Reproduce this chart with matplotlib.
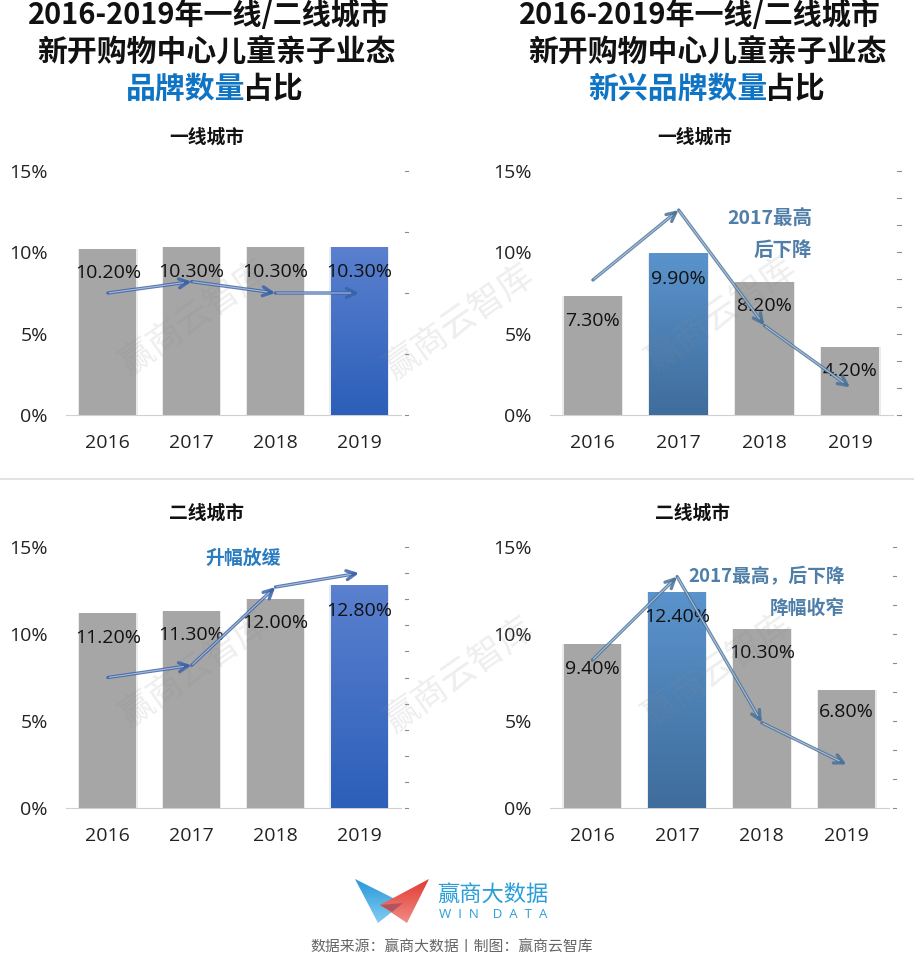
import numpy as np
import matplotlib
matplotlib.use("Agg")
import matplotlib.pyplot as plt
from matplotlib.colors import LinearSegmentedColormap
from matplotlib.patches import Polygon

W, H = 914, 955
CJK = ["Noto Sans CJK SC", "DejaVu Sans"]
NUM = ["Open Sans", "Noto Sans CJK SC"]

years = ["2016", "2017", "2018", "2019"]
y_ticks = [0, 5, 10, 15]

# share of brands
tier1_brand = [10.2, 10.3, 10.3, 10.3]
tier2_brand = [11.2, 11.3, 12.0, 12.8]
tier1_new = [7.3, 9.9, 8.2, 4.2]
tier2_new = [9.4, 12.4, 10.3, 6.8]

# hand drawn trend arrows, in the same % units as the value axis
tier1_brand_arrow = [7.5, 8.2, 7.5, 7.5]
tier2_brand_arrow = [7.5, 8.2, 12.7, 13.5]
tier1_new_arrow = [8.3, 12.6, 5.5, 1.7]
tier2_new_arrow = [8.5, 13.3, 4.9, 2.5]

# where the value labels sit, in %
tier1_brand_label = [8.7, 8.8, 8.8, 8.8]
tier2_brand_label = [9.75, 9.95, 10.65, 11.35]
tier1_new_label = [5.78, 8.38, 6.68, 2.68]
tier2_new_label = [8.0, 11.0, 8.9, 5.5]

BLUE_HI = ("#2c5fb9", "#5a80cf")
STEEL_HI = ("#3f6d9c", "#5a93cc")
GRAY = "#a6a6a6"
TITLE_BLUE = "#0f74c4"
NOTE_BLUE = "#4f7fa9"

fig = plt.figure(figsize=(W / 100, H / 100), dpi=100, facecolor="white")


def px_axes(x0, y0, x1, y1):
    return fig.add_axes([x0 / W, 1 - y1 / H, (x1 - x0) / W, (y1 - y0) / H])


def draw_panel(box, title, title_x, title_y, values, arrow, labels, hi, hi_colors, n_right, arrow_col):
    ax = px_axes(*box)
    ax.patch.set_alpha(0)
    x = np.arange(len(years))
    # soft halo behind the bars
    ax.bar(x, values, width=0.71, color="#d9d9d9", alpha=0.5, zorder=1)
    bars = ax.bar(x, values, width=0.68, color=GRAY, zorder=2)

    b = bars[hi]
    cmap = LinearSegmentedColormap.from_list("hi", hi_colors)
    ax.imshow(np.linspace(1, 0, 64).reshape(-1, 1), cmap=cmap, aspect="auto", zorder=3,
              extent=(b.get_x(), b.get_x() + b.get_width(), 0, b.get_height()))
    ax.set_xlim(-0.5, 3.5)
    ax.set_ylim(0, 15)

    for i, lab in enumerate(labels):
        ax.text(x[i], lab, f"{values[i]:.2f}%", ha="center", va="center", fontsize=14,
                family=NUM, color="#111111", zorder=5)

    # arrows: darker outline, pale core only along the shaft
    for i in range(len(x) - 1):
        ax.annotate("", xy=(x[i + 1], arrow[i + 1]), xytext=(x[i], arrow[i]),
                    arrowprops=dict(arrowstyle="->", color=arrow_col, lw=2.4, alpha=0.85,
                                    mutation_scale=16, shrinkA=0, shrinkB=0), zorder=6)
        ax.annotate("", xy=(x[i + 1], arrow[i + 1]), xytext=(x[i], arrow[i]),
                    arrowprops=dict(arrowstyle="-", color="#b4c6e0", lw=0.8, alpha=0.9,
                                    shrinkA=1, shrinkB=6), zorder=7)

    for s in ["top", "left", "right"]:
        ax.spines[s].set_visible(False)
    ax.spines["bottom"].set_color("#d0d0d0")
    ax.tick_params(length=0)
    ax.tick_params(axis="x", pad=14)
    ax.tick_params(axis="y", pad=13)
    ax.set_xticks(x, years, fontsize=14, family=NUM, color="#222222")
    ax.set_yticks(y_ticks, [f"{t}%" for t in y_ticks], fontsize=14, family=NUM, color="#222222")

    # stray tick marks of the hidden secondary axis
    for v in np.linspace(0, 15, n_right + 1):
        ax.plot([1.012, 1.022], [v, v], color="#8c8c8c", lw=0.8,
                transform=ax.get_yaxis_transform(), clip_on=False)

    fig.text(title_x / W, 1 - title_y / H, title, ha="center", va="center", fontsize=13.5,
             fontweight="bold", family=CJK, color="#111111")
    return ax


draw_panel((66, 171, 401, 415), "一线城市", 207, 137, tier1_brand, tier1_brand_arrow,
           tier1_brand_label, 3, BLUE_HI, 4, "#3a62a8")
draw_panel((550, 171, 893, 415), "一线城市", 695, 137, tier1_new, tier1_new_arrow,
           tier1_new_label, 1, STEEL_HI, 9, "#4a7298")
draw_panel((66, 547, 401, 808), "二线城市", 207, 513, tier2_brand, tier2_brand_arrow,
           tier2_brand_label, 3, BLUE_HI, 10, "#3a62a8")
draw_panel((550, 547, 889, 808), "二线城市", 693, 513, tier2_new, tier2_new_arrow,
           tier2_new_label, 1, STEEL_HI, 9, "#4a7298")

# overlay in image pixels for titles, notes, watermark and logo
ov = fig.add_axes([0, 0, 1, 1], zorder=20)
ov.axis("off")
ov.patch.set_alpha(0)

t1 = dict(fontsize=20.9, fontweight="bold", family=CJK, va="center")
t2 = dict(fontsize=21.5, fontweight="bold", family=CJK, va="center")
ov.text(208.5, 15, "2016-2019年一线/二线城市", ha="center", color="#111111", **t1)
ov.text(216, 52, "新开购物中心儿童亲子业态", ha="center", color="#111111", **t2)
ov.text(245, 89, "品牌数量", ha="right", color=TITLE_BLUE, **t2)
ov.text(243, 89, "占比", ha="left", color="#111111", **t2)
ov.text(700, 15, "2016-2019年一线/二线城市", ha="center", color="#111111", **t1)
ov.text(707, 52, "新开购物中心儿童亲子业态", ha="center", color="#111111", **t2)
ov.text(767, 89, "新兴品牌数量", ha="right", color=TITLE_BLUE, **t2)
ov.text(765, 89, "占比", ha="left", color="#111111", **t2)

ns = dict(fontweight="bold", family=CJK, va="center", ha="right", color=NOTE_BLUE)
ov.text(812, 219, "2017最高", fontsize=14, **ns)
ov.text(812, 250, "后下降", fontsize=14, **ns)
ov.text(845, 577, "2017最高，后下降", fontsize=13.5, **ns)
ov.text(845, 608, "降幅收窄", fontsize=13.5, **ns)
ov.text(243, 558, "升幅放缓", fontsize=13.6, fontweight="bold", family=CJK, va="center",
        ha="center", color="#2a7cc0")

ov.plot([0, W], [479, 479], color="#dedede", lw=1.2)

for cx, cy in [(195, 318), (460, 322), (722, 314), (195, 670), (460, 675), (718, 670)]:
    ov.text(cx, cy, "赢商云智库", fontsize=25, family=CJK, color="#8a8a8a", alpha=0.15,
            rotation=35, ha="center", va="center", rotation_mode="anchor")


def grad_poly(pts, colors):
    # vertical gradient clipped to a polygon
    poly = Polygon(pts, closed=True, fc="none", ec="none", transform=ov.transData)
    ov.add_patch(poly)
    xs, ys = zip(*pts)
    cmap = LinearSegmentedColormap.from_list("g", colors)
    im = ov.imshow(np.linspace(0, 1, 32).reshape(-1, 1), cmap=cmap, aspect="auto", origin="upper",
                   extent=(min(xs), max(xs), max(ys), min(ys)))
    im.set_clip_path(poly)


grad_poly([(355, 879), (403, 903), (378, 923)], ("#2a98d8", "#80ccf2"))
grad_poly([(429, 879), (380, 905), (407, 923)], ("#e23a32", "#f08c84"))
ov.add_patch(Polygon([(380, 905), (403, 903), (392, 912)], closed=True, color="#b0555f", lw=0))
ov.set_xlim(0, W)
ov.set_ylim(H, 0)

ov.text(493, 894, "赢商大数据", fontsize=16, family=CJK, color="#2a9ed8", ha="center", va="center")
ov.text(493, 914, "W  I  N    D  A  T  A", fontsize=9.5, family=NUM, color="#2a9ed8", ha="center", va="center")
ov.text(452, 947, "数据来源：赢商大数据丨制图：赢商云智库", fontsize=10.7, family=CJK, color="#666666",
        ha="center", va="center")

fig.savefig("out.png", dpi=100)
